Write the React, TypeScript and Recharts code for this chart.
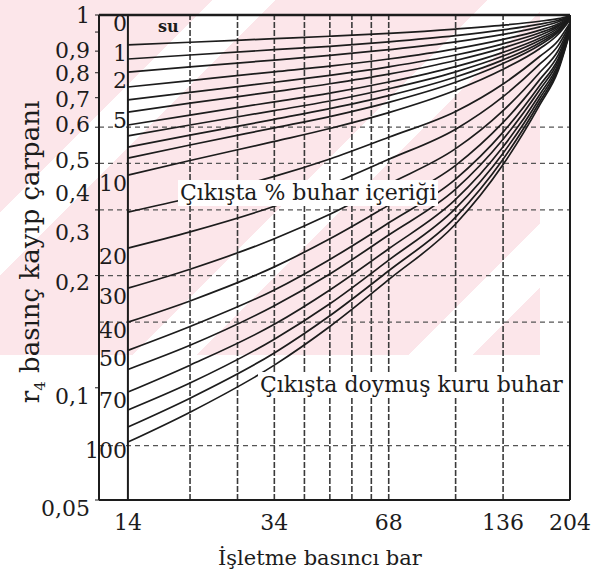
import React from "react";
import { LineChart, Line, XAxis, YAxis, ReferenceLine, LabelList } from "recharts";

// işletme basıncı (bar) - curve sample points
const PRESSURES = [14, 20.4, 34, 47.6, 68, 102, 136, 170, 190, 204];

// çıkışta % buhar içeriği
const QUALITIES = [0, 1, 1.5, 2, 3, 4, 5, 6, 7, 8, 9, 10, 15, 20, 30, 40, 50, 60, 70, 80, 90, 100];
const LABELLED = [0, 1, 2, 5, 10, 20, 30, 40, 50, 70, 100];

// r4, one row per quality, one column per pressure
const R4 = [
  [1, 1, 1, 1, 1, 1, 1, 1, 1, 1],
  [0.831, 0.845, 0.864, 0.877, 0.893, 0.917, 0.939, 0.962, 0.978, 0.994],
  [0.762, 0.781, 0.807, 0.824, 0.847, 0.88, 0.912, 0.945, 0.968, 0.992],
  [0.703, 0.726, 0.757, 0.779, 0.807, 0.847, 0.887, 0.929, 0.959, 0.989],
  [0.641, 0.667, 0.704, 0.729, 0.762, 0.811, 0.86, 0.911, 0.948, 0.987],
  [0.592, 0.62, 0.66, 0.689, 0.726, 0.781, 0.837, 0.896, 0.939, 0.984],
  [0.549, 0.58, 0.623, 0.654, 0.694, 0.755, 0.816, 0.882, 0.931, 0.982],
  [0.507, 0.539, 0.585, 0.617, 0.661, 0.727, 0.794, 0.867, 0.922, 0.98],
  [0.474, 0.507, 0.554, 0.588, 0.634, 0.704, 0.776, 0.855, 0.914, 0.978],
  [0.442, 0.476, 0.525, 0.561, 0.608, 0.682, 0.758, 0.843, 0.907, 0.976],
  [0.413, 0.448, 0.498, 0.534, 0.583, 0.66, 0.741, 0.831, 0.899, 0.974],
  [0.372, 0.407, 0.458, 0.496, 0.547, 0.628, 0.715, 0.813, 0.888, 0.971],
  [0.296, 0.323, 0.369, 0.411, 0.47, 0.551, 0.653, 0.775, 0.854, 0.952],
  [0.237, 0.262, 0.307, 0.35, 0.41, 0.494, 0.604, 0.739, 0.829, 0.944],
  [0.185, 0.208, 0.251, 0.292, 0.352, 0.438, 0.554, 0.702, 0.803, 0.935],
  [0.15, 0.171, 0.211, 0.251, 0.309, 0.395, 0.515, 0.672, 0.782, 0.927],
  [0.126, 0.146, 0.183, 0.221, 0.277, 0.363, 0.485, 0.648, 0.764, 0.921],
  [0.112, 0.13, 0.166, 0.202, 0.257, 0.341, 0.464, 0.631, 0.752, 0.916],
  [0.0974, 0.115, 0.148, 0.183, 0.236, 0.32, 0.443, 0.613, 0.739, 0.911],
  [0.0872, 0.103, 0.135, 0.168, 0.22, 0.303, 0.426, 0.599, 0.728, 0.907],
  [0.0785, 0.0938, 0.124, 0.156, 0.206, 0.287, 0.41, 0.586, 0.718, 0.903],
  [0.0715, 0.086, 0.115, 0.146, 0.195, 0.275, 0.397, 0.575, 0.71, 0.9],
];

const X_TICKS = [14, 34, 68, 136, 204];
const Y_TICKS = [1, 0.9, 0.8, 0.7, 0.6, 0.5, 0.4, 0.3, 0.2, 0.1, 0.05];
const GRID_P = [20.4, 27.2, 34, 40.8, 47.6, 54.4, 61.2, 68, 102, 136];
const GRID_R = [0.5, 0.4, 0.3, 0.2, 0.15, 0.07];

// the printed labels sit lower than their ticks; push them down so they don't collide
const Y_LABEL_NUDGE: Record<string, number> = {
  "1": 0, "0.9": 18, "0.8": 22, "0.7": 27, "0.6": 27, "0.5": 33,
  "0.4": 30, "0.3": 22, "0.2": 7, "0.1": 9, "0.05": 8,
};

const FONT = '"DejaVu Serif", "Liberation Serif", serif';
const INK = "#1c1c1c";

const data = PRESSURES.map((p, i) => {
  const row: Record<string, number> = { p };
  QUALITIES.forEach((q, j) => {
    row["q" + j] = R4[j][i];
  });
  return row;
});

const comma = (v: number) => String(v).replace(".", ",");

const YTick = (props: any) => {
  const { x, y, payload } = props;
  const nudge = Y_LABEL_NUDGE[String(payload.value)] || 0;
  return (
    <text x={x} y={y + nudge} dy="0.35em" textAnchor="end" fontSize={22} fontFamily={FONT} fill={INK}>
      {comma(payload.value)}
    </text>
  );
};

export default function App() {
  return (
    <div style={{ position: "absolute", left: 0, top: 0, width: 610, height: 580, background: "#fff", overflow: "hidden", fontFamily: FONT }}>
      {/* faint pink watermark of the scan */}
      <div
        style={{
          position: "absolute", left: 0, top: 0, width: 540, height: 355,
          background: "repeating-linear-gradient(135deg, #fce6ea 0px, #fce6ea 150px, #ffffff 150px, #ffffff 195px)",
        }}
      />

      <LineChart width={610} height={580} data={data} margin={{ top: 15, right: 40, bottom: 50, left: 0 }} style={{ position: "absolute", left: 0, top: 0 }}>
        <XAxis
          dataKey="p" type="number" scale="log" domain={[11.75, 204]} allowDataOverflow
          ticks={X_TICKS} interval={0} height={30} tickLine={false} tickMargin={8}
          axisLine={{ stroke: INK, strokeWidth: 2 }}
          tick={{ fill: INK, fontSize: 22, fontFamily: FONT }}
        />
        <YAxis
          type="number" scale="log" domain={[0.05, 1]} allowDataOverflow
          ticks={Y_TICKS} interval={0} width={99} tickSize={4} tickMargin={5}
          axisLine={{ stroke: INK, strokeWidth: 2 }}
          tickLine={{ stroke: INK }}
          tick={<YTick />}
        />

        {GRID_P.map((p) => (
          <ReferenceLine key={"gp" + p} x={p} stroke="#3a3a3a" strokeWidth={1.6} strokeDasharray="6 2" />
        ))}
        {GRID_R.map((r) => (
          <ReferenceLine key={"gr" + r} y={r} stroke="#555" strokeWidth={1.2} strokeDasharray="5 4" />
        ))}
        <ReferenceLine x={14} stroke={INK} strokeWidth={2} />
        <ReferenceLine x={204} stroke={INK} strokeWidth={2} />
        <ReferenceLine y={1} stroke={INK} strokeWidth={2.5} />

        {QUALITIES.map((q, j) => (
          <Line
            key={"q" + j} dataKey={"q" + j} type="monotone" stroke={INK} strokeWidth={1.7}
            dot={false} activeDot={false} isAnimationActive={false}
          >
            {LABELLED.includes(q) && (
              <LabelList
                dataKey={"q" + j}
                content={(props: any) =>
                  props.index === 0 ? (
                    <text x={props.x - 1} y={props.y + 8} dy="0.35em" textAnchor="end" fontSize={22} fontFamily={FONT} fill={INK}>
                      {q}
                    </text>
                  ) : null
                }
              />
            )}
          </Line>
        ))}
      </LineChart>

      <div style={{ position: "absolute", left: 158, top: 18, fontSize: 16, fontWeight: "bold", color: INK, lineHeight: "18px" }}>su</div>
      <div style={{ position: "absolute", left: 178, top: 180, fontSize: 22, color: INK, background: "#fff", lineHeight: "26px", padding: "0 2px" }}>
        Çıkışta % buhar içeriği
      </div>
      <div style={{ position: "absolute", left: 258, top: 372, fontSize: 22, color: INK, background: "#fff", lineHeight: "26px", padding: "0 2px" }}>
        Çıkışta doymuş kuru buhar
      </div>
      <div style={{ position: "absolute", left: 218, top: 545, fontSize: 21, color: INK, lineHeight: "26px" }}>İşletme basıncı bar</div>
      <div
        style={{
          position: "absolute", left: 30 - 170, top: 252 - 16, width: 340, height: 32, lineHeight: "32px",
          textAlign: "center", fontSize: 26, color: INK, transform: "rotate(-90deg)",
        }}
      >
        r<sub style={{ fontSize: 15 }}>4</sub> basınç kayıp çarpanı
      </div>
    </div>
  );
}
